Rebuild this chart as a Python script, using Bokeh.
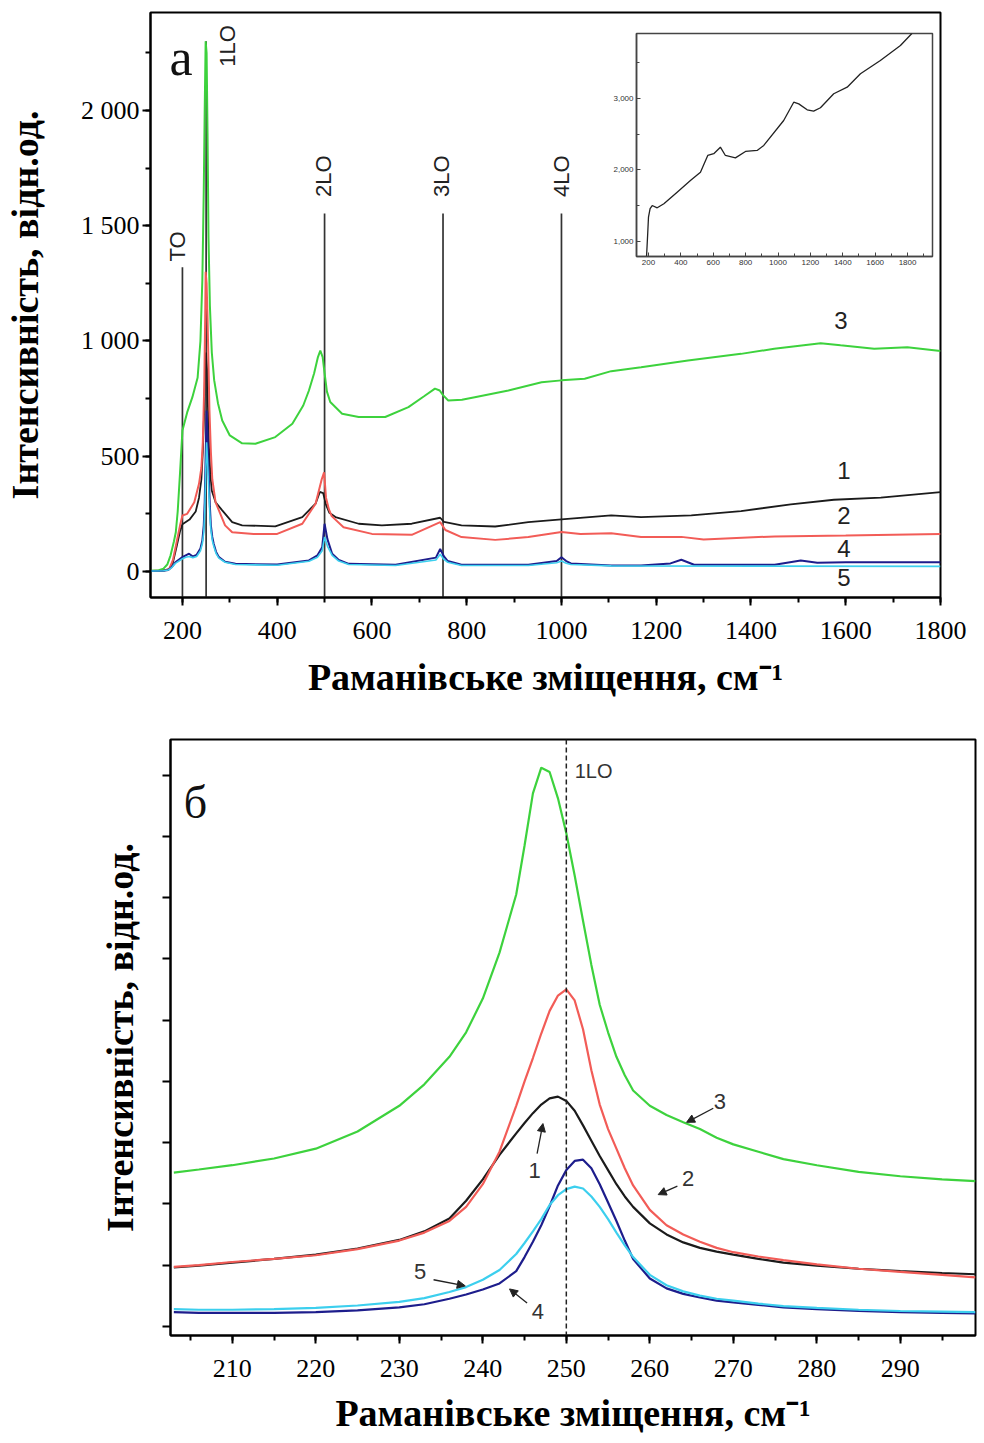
import math
from bokeh.plotting import figure
from bokeh.layouts import column
from bokeh.models import (Range1d, SingleIntervalTicker, Arrow, NormalHead, Label,
                          CustomJSTickFormatter, Span, ColumnDataSource)
from bokeh.embed import file_html
from bokeh.resources import INLINE

# ---------------- panel (а): full spectra ----------------
a_x_green = [133, 150, 160, 168, 175, 182, 186, 190, 195, 200, 210, 221, 232, 238, 242, 245, 247, 249, 251, 253,
             255, 258, 262, 267, 275, 284, 300, 326, 354, 396, 432, 455, 467, 478, 486, 491, 496, 500, 505, 512,
             537, 572, 628, 677, 710, 733, 743, 750, 761, 790, 817, 888, 958, 1000, 1049, 1105, 1168, 1267, 1379,
             1449, 1547, 1589, 1660, 1730, 1800]
a_y_green = [3, 5, 12, 30, 70, 130, 170, 260, 430, 612, 690, 756, 840, 1000, 1262, 1650, 2000, 2300, 2250, 1900,
             1450, 1150, 950, 830, 730, 655, 590, 556, 554, 583, 641, 720, 785, 860, 930, 958, 930, 860, 780, 735,
             684, 670, 670, 713, 760, 793, 785, 765, 742, 745, 756, 785, 821, 829, 836, 869, 886, 915, 944,
             966, 990, 981, 966, 973, 956]

a_x_black = [133, 160, 172, 180, 188, 195, 200, 215, 228, 235, 240, 243, 246, 248, 250, 252, 254, 256, 259, 262,
             270, 284, 305, 326, 396, 453, 481, 490, 497, 503, 510, 523, 572, 621, 684, 744, 752, 789, 860, 930,
             1000, 1105, 1168, 1274, 1379, 1484, 1575, 1674, 1800]
a_y_black = [2, 4, 10, 40, 110, 175, 205, 225, 260, 320, 400, 520, 700, 880, 950, 880, 700, 540, 420, 350,
             300, 265, 214, 200, 196, 236, 294, 345, 340, 290, 255, 236, 207, 200, 207, 233, 215, 200, 195, 214,
             226, 243, 236, 243, 262, 291, 311, 320, 344]

a_x_red = [133, 160, 172, 180, 188, 195, 200, 210, 225, 235, 240, 243, 246, 248, 249, 251, 253, 255, 257, 260,
           263, 270, 290, 305, 350, 400, 453, 481, 494, 499, 503, 509, 515, 540, 600, 684, 744, 755, 789, 860,
           930, 1000, 1040, 1105, 1168, 1253, 1300, 1450, 1600, 1800]
a_y_red = [2, 4, 10, 50, 130, 200, 243, 250, 300, 380, 450, 560, 800, 1100, 1300, 1250, 1100, 900, 700, 520,
           400, 300, 200, 170, 163, 163, 207, 294, 400, 430, 320, 270, 240, 192, 163, 159, 214, 180, 149, 137,
           149, 171, 162, 166, 149, 150, 139, 152, 156, 163]

a_x_blue = [133, 160, 170, 178, 185, 200, 207, 214, 222, 230, 238, 242, 245, 247, 249, 251, 253, 255, 258, 260,
            263, 266, 271, 277, 290, 312, 400, 467, 485, 495, 500, 506, 516, 530, 551, 650, 735, 744, 752, 760,
            789, 930, 990, 1000, 1010, 1020, 1105, 1168, 1230, 1253, 1280, 1450, 1505, 1540, 1600, 1800]
a_y_blue = [2, 3, 6, 20, 40, 62, 70, 77, 65, 72, 100, 134, 200, 300, 500, 698, 600, 450, 280, 200,
            150, 120, 85, 62, 42, 33, 30, 48, 70, 105, 207, 140, 77, 50, 33, 29, 60, 98, 65, 45,
            29, 29, 45, 62, 45, 35, 26, 26, 35, 51, 29, 29, 48, 38, 40, 40]

a_x_cyan = [133, 160, 170, 178, 185, 200, 207, 214, 222, 230, 238, 242, 245, 247, 249, 251, 253, 255, 258, 260,
            263, 266, 271, 277, 290, 312, 400, 467, 485, 495, 500, 506, 516, 530, 551, 650, 735, 744, 752, 760,
            789, 930, 990, 1000, 1010, 1020, 1105, 1800]
a_y_cyan = [2, 3, 6, 18, 35, 55, 62, 65, 60, 65, 90, 120, 170, 250, 420, 560, 480, 380, 240, 180,
            135, 110, 78, 58, 40, 30, 27, 44, 62, 90, 150, 110, 70, 45, 30, 26, 50, 75, 52, 40,
            26, 26, 38, 45, 36, 30, 24, 22]

a_y_labels = {0: "0", 500: "500", 1000: "1 000", 1500: "1 500", 2000: "2 000"}

# phonon mode markers
mode_pos = [200, 250, 500, 750, 1000]
mode_name = ["TO", "1LO", "2LO", "3LO", "4LO"]
mode_line_top = [1320, 2300, 1553, 1553, 1553]
mode_label_x = [189, 295, 498, 747, 1000]
mode_label_y = [1345, 2190, 1625, 1625, 1625]

curve_label_text = ["3", "1", "2", "4", "5"]
curve_label_x = [1590, 1596, 1596, 1596, 1596]
curve_label_y = [1089, 438, 243, 100, -26]

# inset
ins_x = [188, 195, 200, 210, 223, 254, 295, 377, 459, 521, 566, 603, 644, 675, 737, 799, 871, 912, 1035, 1097,
         1128, 1180, 1220, 1262, 1344, 1427, 1509, 1632, 1756, 1828]
ins_y = [790, 1100, 1340, 1460, 1503, 1471, 1527, 1690, 1853, 1969, 2203, 2228, 2319, 2203, 2170, 2259, 2273, 2343,
         2692, 2948, 2925, 2842, 2823, 2870, 3066, 3158, 3345, 3531, 3741, 3913]
ins_y_labels = {1000: "1,000", 2000: "2,000", 3000: "3,000"}

# ---------------- panel (б): 1LO region ----------------
b_x = [203, 206, 210, 215, 220, 225, 230, 233, 236, 238, 240, 242, 244, 245, 246, 247, 248, 249, 250, 251,
       252, 253, 254, 255, 256, 257, 258, 260, 262, 264, 266, 268, 270, 273, 276, 280, 285, 290, 295, 299]
b_green = [251, 256, 263, 274, 290, 318, 360, 395, 440, 480, 535, 610, 705, 785, 870, 912, 905, 862, 805, 736,
           662, 590, 525, 480, 440, 410, 385, 360, 345, 333, 322, 308, 297, 285, 273, 263, 252, 245, 240, 237]
b_red = [97, 100, 105, 110, 116, 126, 140, 153, 172, 195, 232, 285, 360, 400, 438, 478, 515, 540, 550, 532,
         485, 418, 362, 322, 290, 258, 230, 190, 165, 150, 138, 128, 121, 114, 108, 101, 94, 89, 84, 80]
b_black = [96, 99, 104, 110, 117, 127, 141, 155, 176, 205, 240, 280, 315, 332, 348, 362, 372, 375, 368, 352,
           328, 303, 278, 255, 232, 212, 195, 168, 150, 137, 128, 122, 117, 110, 104, 99, 94, 90, 87, 85]
b_blue = [23, 22, 22, 22, 23, 26, 31, 36, 45, 52, 60, 70, 90, 113, 138, 165, 196, 230, 255, 270,
          272, 258, 232, 202, 172, 140, 110, 78, 62, 53, 47, 42, 39, 35, 31, 28, 25, 23, 22, 21]
b_cyan = [28, 27, 27, 28, 30, 34, 40, 46, 56, 64, 76, 92, 118, 136, 155, 175, 198, 214, 224, 228,
          225, 212, 195, 175, 153, 132, 113, 84, 67, 57, 50, 45, 42, 37, 33, 30, 27, 25, 24, 23]

b_label_text = ["3", "2", "1", "4", "5"]
b_label_x = [268.4, 264.6, 246.2, 246.6, 232.5]
b_label_y = [367, 241, 255, 24, 89]
b_arrow_start = [(267.6, 356), (263.3, 229), (246.5, 282), (245.3, 38), (234.1, 76)]
b_arrow_end = [(264.4, 333), (261.0, 215), (247.2, 331), (243.2, 61), (237.9, 66)]

GREEN = "#3dd23d"
RED = "#f25c57"
BLACK = "#1b1b1b"
BLUE = "#1d1d8c"
CYAN = "#3ccfee"

SERIF = "Liberation Serif"
SANS = "Liberation Sans"
XLABEL = "Раманівське зміщення, см⁻¹"
YLABEL = "Інтенсивність, відн.од."


def style_axes(p, tick_font="26px"):
    p.xgrid.visible = False
    p.ygrid.visible = False
    p.outline_line_color = "black"
    p.outline_line_width = 2
    p.background_fill_color = "white"
    p.border_fill_color = "white"
    for ax in (p.xaxis[0], p.yaxis[0]):
        ax.axis_line_width = 2
        ax.axis_line_color = "black"
        ax.major_tick_line_width = 2
        ax.minor_tick_line_width = 2
        ax.major_tick_in = 0
        ax.major_tick_out = 8
        ax.minor_tick_in = 0
        ax.minor_tick_out = 5
        ax.major_label_text_font = SERIF
        ax.major_label_text_font_size = tick_font
        ax.major_label_text_color = "black"
        ax.axis_label_text_font = SERIF
        ax.axis_label_text_font_style = "bold"
        ax.axis_label_text_font_size = "38px"
        ax.axis_label_text_color = "black"


# ---------- figure (а) ----------
pa = figure(width=984, height=715, x_range=Range1d(132.6, 1800), y_range=Range1d(-113, 2425),
            output_backend="svg", toolbar_location=None, frame_align=False,
            min_border_left=148, min_border_right=44, min_border_top=12, min_border_bottom=118)
style_axes(pa)
pa.xaxis.ticker = SingleIntervalTicker(interval=200, num_minor_ticks=2)
pa.yaxis.ticker = SingleIntervalTicker(interval=500, num_minor_ticks=2)
pa.yaxis.major_label_overrides = a_y_labels
pa.xaxis.axis_label = XLABEL
pa.yaxis.axis_label = YLABEL
pa.xaxis.major_label_standoff = 16
pa.yaxis.major_label_standoff = 3
pa.xaxis.axis_label_standoff = 14
pa.yaxis.axis_label_standoff = 32

seg = ColumnDataSource(dict(x=mode_pos, top=mode_line_top, bottom=[-200] * len(mode_pos)))
pa.segment(x0="x", y0="bottom", x1="x", y1="top", source=seg, line_color="#333333", line_width=1.7)

pa.line(a_x_black, a_y_black, line_color=BLACK, line_width=1.8)
pa.line(a_x_red, a_y_red, line_color=RED, line_width=2)
pa.line(a_x_green, a_y_green, line_color=GREEN, line_width=2)
pa.line(a_x_blue, a_y_blue, line_color=BLUE, line_width=2)
pa.line(a_x_cyan, a_y_cyan, line_color=CYAN, line_width=1.6)

for name, lx, ly in zip(mode_name, mode_label_x, mode_label_y):
    pa.add_layout(Label(x=lx, y=ly, text=name, angle=math.pi / 2, text_align="left",
                        text_baseline="middle", text_font=SANS, text_font_size="22px",
                        text_color="#222222"))
for t, lx, ly in zip(curve_label_text, curve_label_x, curve_label_y):
    pa.add_layout(Label(x=lx, y=ly, text=t, text_align="center", text_baseline="middle",
                        text_font=SANS, text_font_size="24px", text_color="#222222"))
pa.add_layout(Label(x=172.6, y=2228, text="а", text_align="left", text_baseline="alphabetic",
                    text_font=SERIF, text_font_size="52px", text_color="#111111"))

# ---------- inset ----------
pin = figure(width=336, height=249, x_range=Range1d(126, 1954), y_range=Range1d(790, 3909),
             output_backend="svg", toolbar_location=None, frame_align=False,
             min_border_left=36, min_border_right=4, min_border_top=4, min_border_bottom=22,
             styles={"position": "absolute", "left": "600px", "top": "29px", "z-index": "5"})
pin.xgrid.visible = False
pin.ygrid.visible = False
pin.outline_line_color = "#444444"
pin.outline_line_width = 1.5
pin.xaxis.ticker = SingleIntervalTicker(interval=200, num_minor_ticks=2)
pin.yaxis.ticker = SingleIntervalTicker(interval=1000, num_minor_ticks=2)
pin.yaxis.major_label_overrides = ins_y_labels
for ax in (pin.xaxis[0], pin.yaxis[0]):
    ax.axis_line_color = "#444444"
    ax.axis_line_width = 1.5
    ax.major_tick_in = 4
    ax.major_tick_out = 0
    ax.minor_tick_in = 3
    ax.minor_tick_out = 0
    ax.major_tick_line_color = "#444444"
    ax.minor_tick_line_color = "#444444"
    ax.major_label_text_font = SANS
    ax.major_label_text_font_size = "8px"
    ax.major_label_text_color = "#333333"
    ax.major_label_standoff = 3
pin.line(ins_x, ins_y, line_color="#222222", line_width=1.3)

# ---------- figure (б) ----------
pb = figure(width=984, height=728, x_range=Range1d(202.6, 299), y_range=Range1d(-15, 958),
            output_backend="svg", toolbar_location=None, frame_align=False,
            min_border_left=170, min_border_right=9, min_border_top=24, min_border_bottom=108)
style_axes(pb)
pb.xaxis.ticker = SingleIntervalTicker(interval=10, num_minor_ticks=2)
pb.yaxis.ticker = SingleIntervalTicker(interval=100, num_minor_ticks=0)
pb.yaxis.formatter = CustomJSTickFormatter(code="return ''")
pb.yaxis.minor_tick_line_color = None
pb.xaxis.axis_label = XLABEL
pb.yaxis.axis_label = YLABEL
pb.xaxis.major_label_standoff = 16
pb.xaxis.axis_label_standoff = 12
pb.yaxis.axis_label_standoff = 22

pb.add_layout(Span(location=250, dimension="height", line_color="#222222", line_width=1.5,
                   line_dash="5 3"))
pb.line(b_x, b_black, line_color=BLACK, line_width=2.2)
pb.line(b_x, b_red, line_color=RED, line_width=2.2)
pb.line(b_x, b_green, line_color=GREEN, line_width=2.2)
pb.line(b_x, b_blue, line_color=BLUE, line_width=2.2)
pb.line(b_x, b_cyan, line_color=CYAN, line_width=2.2)

for t, lx, ly in zip(b_label_text, b_label_x, b_label_y):
    pb.add_layout(Label(x=lx, y=ly, text=t, text_align="center", text_baseline="middle",
                        text_font=SANS, text_font_size="22px", text_color="#333333"))
for (xs, ys), (xe, ye) in zip(b_arrow_start, b_arrow_end):
    pb.add_layout(Arrow(x_start=xs, y_start=ys, x_end=xe, y_end=ye, line_width=1.3,
                        line_color="#222222",
                        end=NormalHead(size=8, fill_color="#222222", line_color="#222222")))
pb.add_layout(Label(x=251.0, y=907, text="1LO", text_align="left", text_baseline="middle",
                    text_font=SANS, text_font_size="20px", text_color="#333333"))
pb.add_layout(Label(x=204.2, y=855, text="б", text_align="left", text_baseline="alphabetic",
                    text_font=SERIF, text_font_size="46px", text_color="#111111"))

layout = column(pa, pb, pin, spacing=0)
open("out.html", "w").write(file_html(layout, INLINE))
